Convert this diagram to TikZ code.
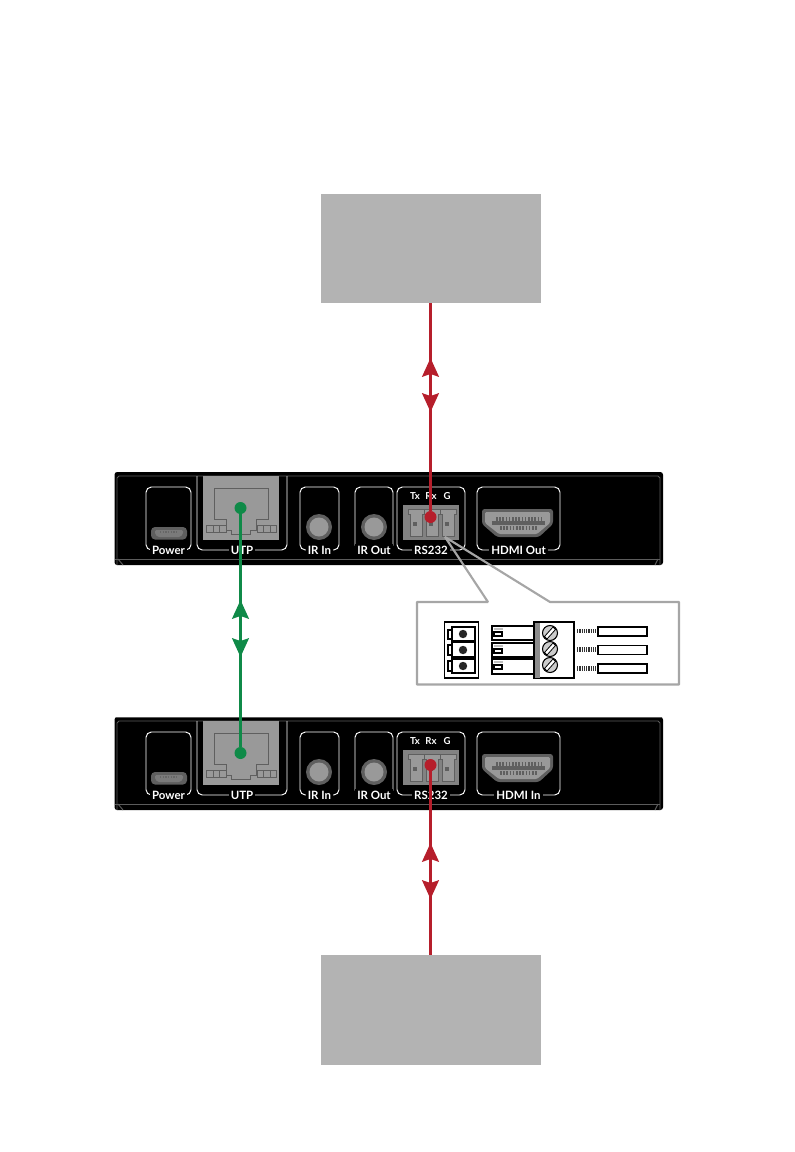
\documentclass[tikz,border=0pt]{standalone}
\usepackage{fontspec}
\setmainfont{Lato}
\usetikzlibrary{arrows.meta}
\definecolor{hostGray}{HTML}{B3B3B3}
\definecolor{linkRed}{HTML}{B61E2B}
\definecolor{linkGreen}{HTML}{0F8A48}
\definecolor{portGray}{HTML}{999999}
\definecolor{portDark}{HTML}{5F5F5F}
\definecolor{frameGray}{HTML}{5C5C5C}
\definecolor{calloutGray}{HTML}{A6A6A6}
\tikzset{
  hostbox/.style={fill=hostGray, minimum width=165pt, minimum height=82pt, inner sep=0pt},
  portbox/.style={draw=white, line width=0.7pt, rounded corners=4pt},
  portlabel/.style={fill=black, text=white, font=\fontsize{8.6}{9}\selectfont\bfseries, inner sep=1.5pt},
  pinlabel/.style={text=white, font=\fontsize{7.2}{8}\selectfont\bfseries, inner sep=0pt},
  redlink/.style={draw=linkRed, line width=2.3pt},
  greenlink/.style={draw=linkGreen, line width=2.3pt},
  redtips/.style={redlink, {Stealth[length=14pt, width=12.5pt, inset=2pt]}-{Stealth[length=14pt, width=12.5pt, inset=2pt]}},
  greentips/.style={greenlink, {Stealth[length=14pt, width=12.5pt, inset=2pt]}-{Stealth[length=14pt, width=12.5pt, inset=2pt]}},
  reddot/.style={circle, fill=linkRed, minimum size=9pt, inner sep=0pt},
  greendot/.style={circle, fill=linkGreen, minimum size=9pt, inner sep=0pt},
  thinblack/.style={draw=black, line width=0.8pt, fill=white},
  twistwire/.style={draw=black!80, line width=3.2pt, dash pattern=on 1pt off 0.7pt}
}
% one panel: name prefix, vertical shift, label of the HDMI port
\newcommand{\devpanel}[3]{
\begin{scope}[shift={(0,#2)}]
\fill[black, rounded corners=2pt] (114.5,472) rectangle (663,565);
\draw[frameGray, line width=0.7pt] (117,565) -- (117,478) -- (119,476) -- (658,476) -- (660,478) -- (660,565);
\draw[frameGray, line width=0.7pt] (115,559) -- (660,559);
\draw[frameGray, line width=0.7pt] (118,559) -- (123,565);
\draw[frameGray, line width=0.7pt] (655,565) -- (658,559);
% port frames
\draw[portbox] (146,487) rectangle (191,550);
\draw[portbox] (197,476) -- (197,550) -- (287,550) -- (287,476);
\draw[portbox] (300,487) rectangle (339,550);
\draw[portbox] (355,487) rectangle (393,550);
\draw[portbox] (397,487) rectangle (465,550);
\draw[portbox] (477,487) rectangle (560,550);
\node[portlabel] (#1power) at (168.5,550) {Power};
\node[portlabel] (#1utp) at (242,550) {UTP};
\node[portlabel] (#1irin) at (319.5,550) {IR In};
\node[portlabel] (#1irout) at (374,550) {IR Out};
\node[portlabel] (#1rs) at (431,550) {RS232};
\node[portlabel] (#1hdmi) at (518.5,550) {#3};
% micro usb
\fill[portDark, rounded corners=3pt] (151,527) rectangle (187,539.5);
\fill[portGray!80!black, rounded corners=1pt] (155,530) -- (183,530) -- (183,534) -- (180,537) -- (158,537) -- (155,534) -- cycle;
\draw[black!60, line width=1pt, dash pattern=on 1pt off 1pt] (160,532) -- (178,532);
% network jack
\fill[portGray] (203,476) rectangle (279,540);
\draw[portDark, line width=0.6pt] (214.3,488.3) -- (268.3,488.3) -- (268.3,519) -- (256,519) -- (256,530.7) -- (250,530.7) -- (250,534.3) -- (231.7,534.3) -- (231.7,530.7) -- (226,530.7) -- (226,519) -- (214.3,519) -- cycle;
\draw[portDark, line width=0.6pt] (206.7,525.7) rectangle (226,532.7);
\draw[portDark, line width=0.6pt] (213,525.7) -- (213,532.7);
\draw[portDark, line width=0.6pt] (219.5,525.7) -- (219.5,532.7);
\draw[portDark, line width=0.6pt] (257.3,525.7) rectangle (276,532.7);
\draw[portDark, line width=0.6pt] (263.5,525.7) -- (263.5,532.7);
\draw[portDark, line width=0.6pt] (270,525.7) -- (270,532.7);
% ir jacks
\fill[portDark] (319,527) circle (13);
\fill[portGray] (319,527) circle (9.5);
\fill[portDark] (374,527) circle (13);
\fill[portGray] (374,527) circle (9.5);
% serial terminal
\node[pinlabel] (#1tx) at (415,496) {Tx};
\node[pinlabel] (#1rx) at (431,496) {Rx};
\node[pinlabel] (#1g) at (447,496) {G};
\fill[portGray!85!black] (403,505) rectangle (459,540);
\draw[portDark, fill=portGray, line width=0.5pt] (408,509) -- (408,514) -- (410,514) -- (410,536) -- (422,536) -- (422,514) -- (424,514) -- (424,509) -- cycle;
\draw[portDark, fill=portGray, line width=0.5pt] (424,509) -- (424,514) -- (426,514) -- (426,536) -- (438,536) -- (438,514) -- (440,514) -- (440,509) -- cycle;
\draw[portDark, fill=portGray, line width=0.5pt] (440,509) -- (440,514) -- (442,514) -- (442,536) -- (454,536) -- (454,514) -- (456,514) -- (456,509) -- cycle;
\fill[portDark] (413,522) rectangle (417,526);
\fill[portDark] (429,522) rectangle (433,526);
\fill[portDark] (445,522) rectangle (449,526);
% hdmi
\fill[portDark, rounded corners=2pt] (482,509) -- (553,509) -- (553,524) -- (539,537) -- (497,537) -- (482,524) -- cycle;
\fill[portGray, rounded corners=1pt] (485,512) -- (550,512) -- (550,523) -- (537,534) -- (499,534) -- (485,523) -- cycle;
\fill[portDark] (492,521) rectangle (545,525);
\draw[portDark, line width=3.5pt, dash pattern=on 1.2pt off 1.2pt] (496,519) -- (541,519);
\draw[portDark, line width=3.5pt, dash pattern=on 1.2pt off 1.2pt] (500,528) -- (537,528);
\end{scope}
}
\begin{document}
\begin{tikzpicture}[x=0.75pt, y=-0.75pt]
\useasboundingbox (0,0) rectangle (795,1152);
\node[hostbox] (topHost) at (430.5,248.5) {};
\node[hostbox] (bottomHost) at (430.5,1010) {};
\devpanel{top}{0}{HDMI Out}
\devpanel{low}{245}{HDMI In}
\draw[frameGray, line width=0.7pt] (116,717.5) -- (662,717.5);
% callout with the wiring detail
\fill[white] (417,602) rectangle (679,684.5);
\draw[calloutGray, line width=1.6pt, line join=bevel] (445,537) -- (488,602) -- (417,602) -- (417,684.5) -- (679,684.5) -- (679,602) -- (550,602) -- cycle;
% small terminal
\node[thinblack, minimum width=26pt, minimum height=42pt, inner sep=0pt] (smallPlug) at (461.5,650) {};
\draw[thinblack] (452,627) rectangle (475,641);
\draw[thinblack] (452,642.5) rectangle (475,657);
\draw[thinblack] (452,659) rectangle (475,673);
\draw[thinblack] (448,630) rectangle (452,639);
\draw[thinblack] (448,645) rectangle (452,655);
\draw[thinblack] (448,661) rectangle (452,671);
\fill[black!85] (463,634) circle (4.2);
\fill[black!85] (463,650) circle (4.2);
\fill[black!85] (463,666) circle (4.2);
% wire blocks
\draw[thinblack] (492,626) rectangle (537,640);
\draw[thinblack] (492,643) rectangle (537,657);
\draw[thinblack] (492,659) rectangle (537,674);
\fill[black!25] (494,628) rectangle (503,630);
\fill[black!25] (494,645) rectangle (503,647);
\fill[black!25] (494,661) rectangle (503,663);
\draw[thinblack] (494,632) rectangle (502,636);
\draw[thinblack] (494,649) rectangle (502,653);
\draw[thinblack] (494,665) rectangle (502,669);
% screw block
\draw[thinblack] (534,622) rectangle (574,678);
\fill[black!45] (534.5,622.5) rectangle (540,677.5);
\foreach \sy in {633,649,665}{
  \draw[black, fill=black!20, line width=0.8pt] (550,\sy) circle (7.5);
  \draw[black, fill=white, line width=0.6pt] (544.5,\sy+3.5) -- (553,\sy-6) -- (555.5,\sy-3.5) -- (547,\sy+6) -- cycle;
}
% wires
\draw[twistwire] (577,631) -- (598,631);
\draw[twistwire] (577,649.5) -- (598,649.5);
\draw[twistwire] (577,668.5) -- (598,668.5);
\draw[thinblack] (598,627) rectangle (647,636);
\draw[thinblack] (598,645.5) rectangle (647,654.5);
\draw[thinblack] (598,664) rectangle (647,673);
% links
\node[reddot] (topRx) at (430.5,517) {};
\node[reddot] (lowRx) at (430.5,765) {};
\node[greendot] (topUtp) at (240.5,508) {};
\node[greendot] (lowUtp) at (240.5,753) {};
\coordinate (topTipA) at (430.5,358);
\coordinate (topTipB) at (430.5,412);
\coordinate (midTipA) at (240.5,600);
\coordinate (midTipB) at (240.5,657);
\coordinate (lowTipA) at (430.5,843);
\coordinate (lowTipB) at (430.5,899);
\draw[redlink] (topHost.south) -- (topRx);
\draw[redlink] (lowRx) -- (bottomHost.north);
\draw[greenlink] (topUtp) -- (lowUtp);
\draw[redtips] (topTipA) -- (topTipB);
\draw[greentips] (midTipA) -- (midTipB);
\draw[redtips] (lowTipA) -- (lowTipB);
\end{tikzpicture}
\end{document}
